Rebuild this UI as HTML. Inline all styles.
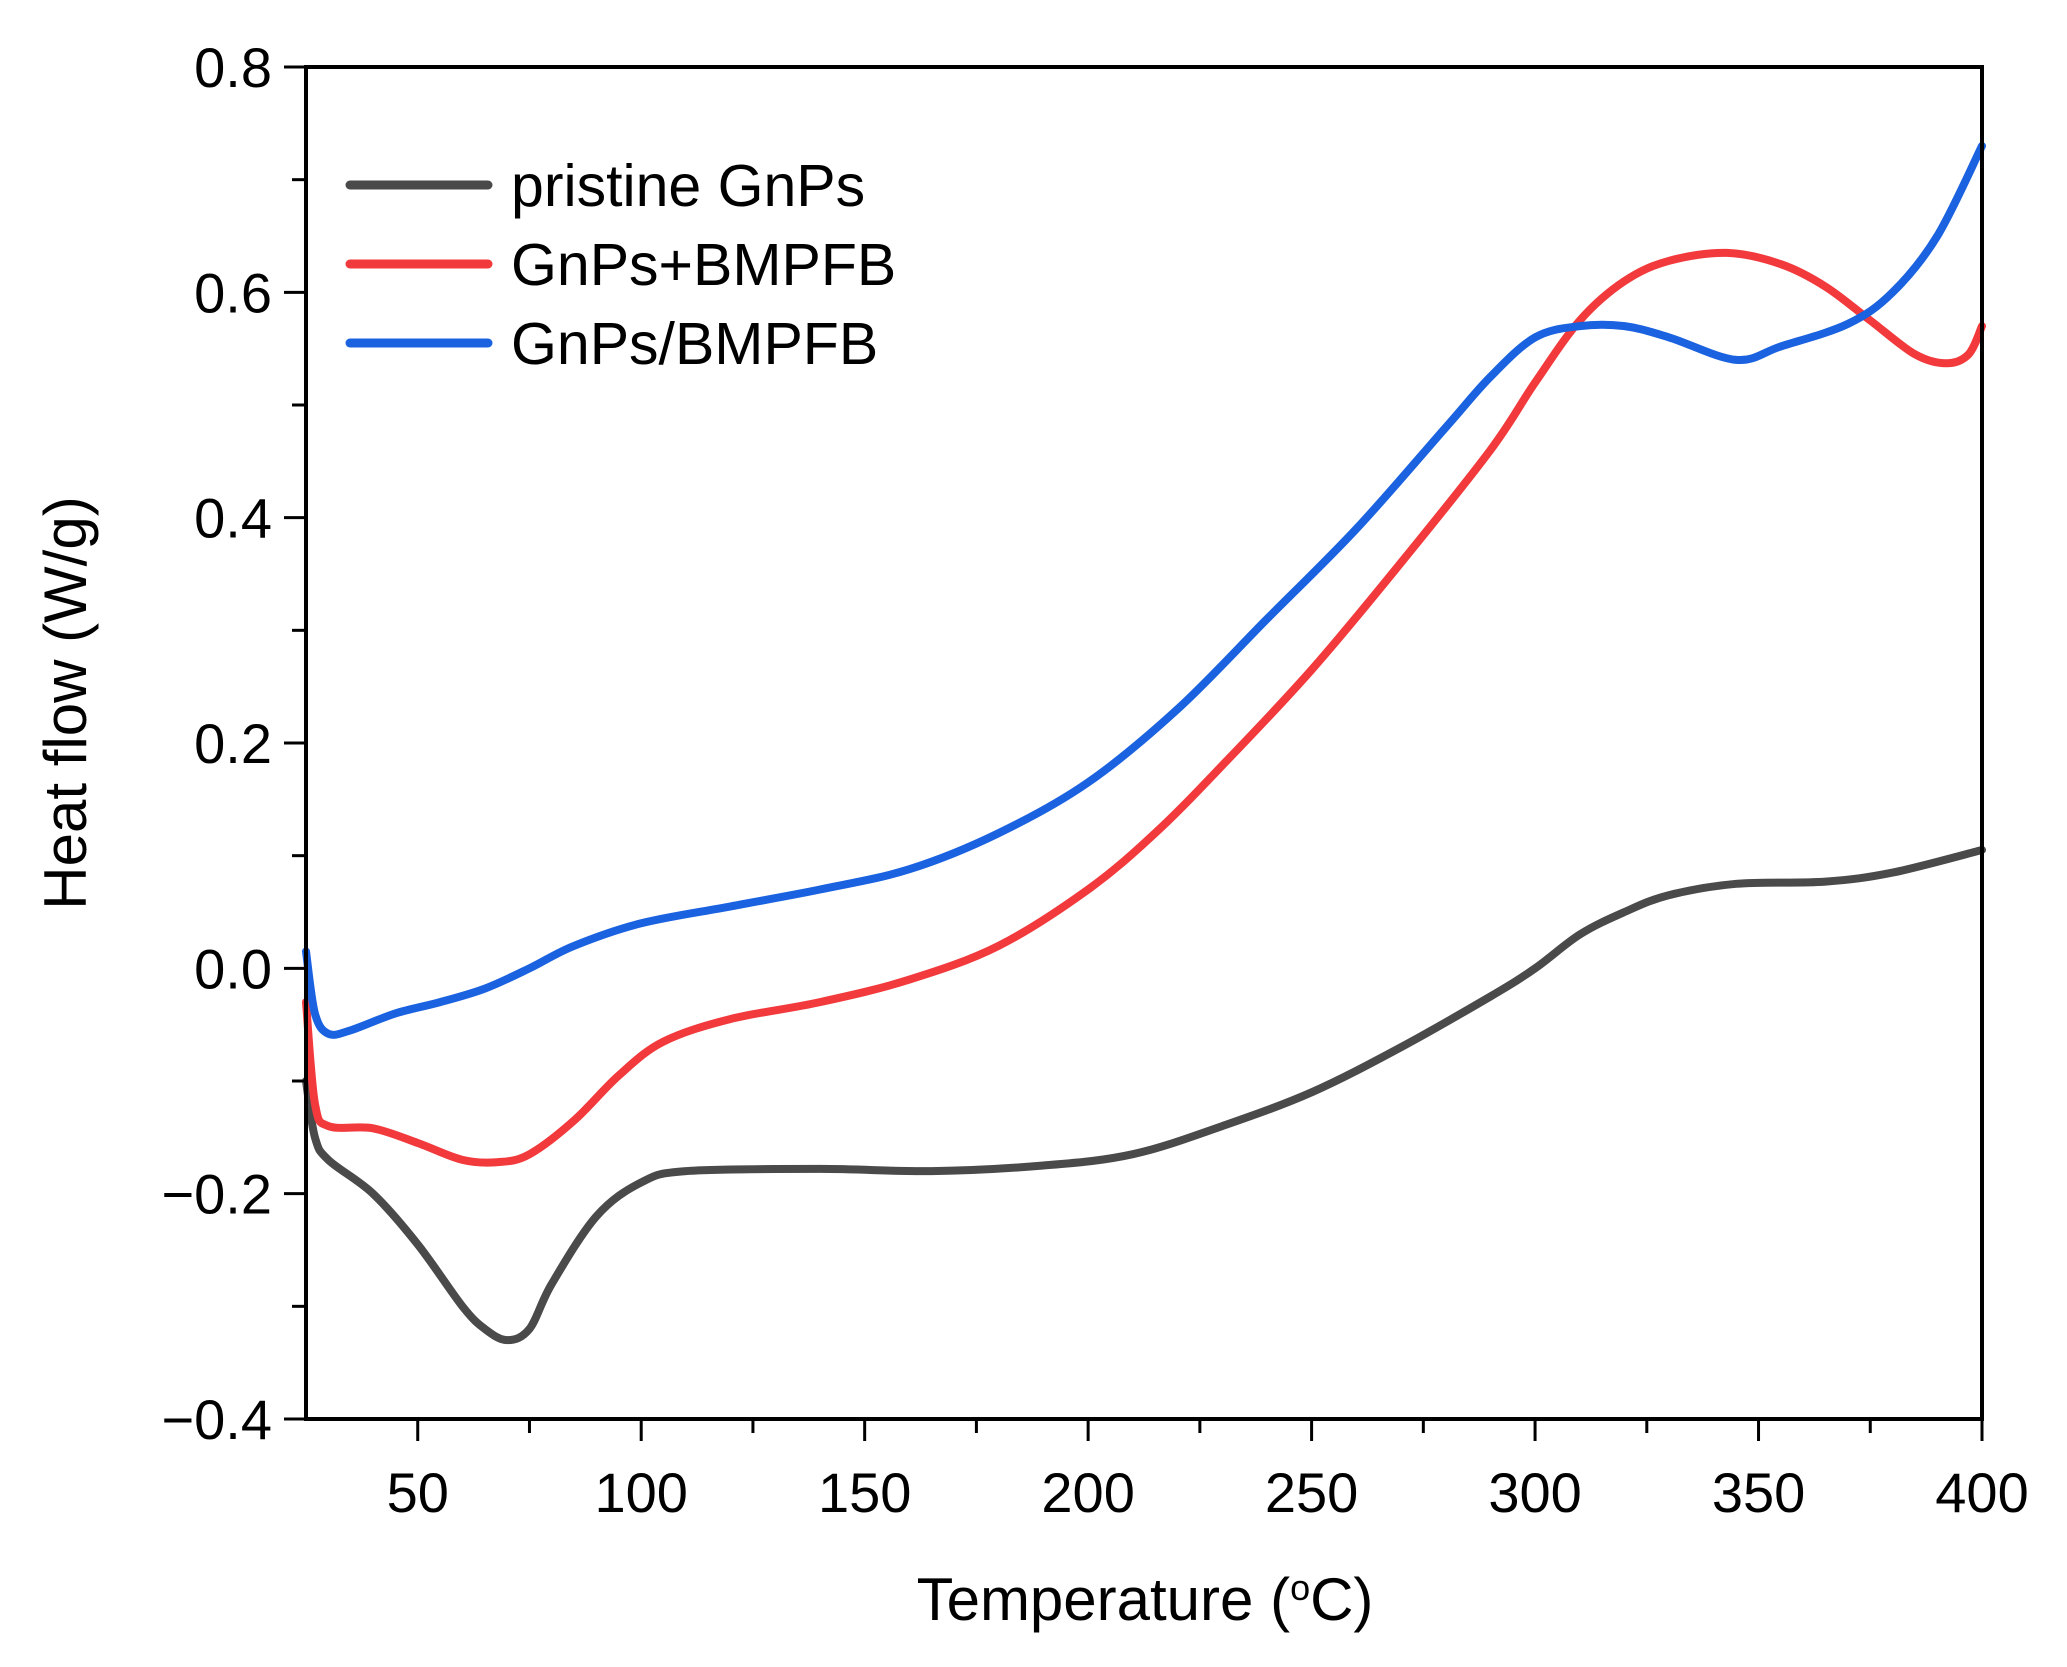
<!DOCTYPE html>
<html><head><meta charset="utf-8"><style>
body{margin:0;background:#fff}
svg{display:block;font-family:"Liberation Sans",Arial,sans-serif}
</style></head><body>
<svg id="chart" width="2067" height="1667" viewBox="0 0 2067 1667">
<g id="plot"></g>
</svg>
<script>
const blackT=[25,27,30,40,50,60,65,70,75,80,90,100,110,140,165,190,210,230,250,270,290,300,310,320,330,345,365,380,400];
const blackV=[-0.10,-0.15,-0.17,-0.20,-0.245,-0.30,-0.32,-0.33,-0.32,-0.28,-0.22,-0.19,-0.18,-0.178,-0.18,-0.175,-0.165,-0.14,-0.11,-0.07,-0.025,0.0,0.03,0.05,0.065,0.075,0.077,0.085,0.105];
const redT=[25,27,30,40,50,60,68,75,85,95,105,120,140,160,180,200,215,230,250,270,290,300,310,320,330,343,355,365,375,385,392,397,400];
const redV=[-0.03,-0.12,-0.14,-0.142,-0.155,-0.17,-0.172,-0.165,-0.135,-0.095,-0.065,-0.045,-0.03,-0.01,0.02,0.07,0.12,0.18,0.265,0.36,0.46,0.52,0.575,0.61,0.628,0.635,0.625,0.605,0.575,0.545,0.537,0.545,0.57];
const blueT=[25,27,30,35,45,55,65,75,85,100,120,140,160,180,200,220,240,260,280,290,300,310,320,330,345,355,370,380,390,400];
const blueV=[0.015,-0.04,-0.058,-0.055,-0.04,-0.03,-0.018,0.0,0.02,0.04,0.055,0.07,0.088,0.12,0.165,0.23,0.31,0.39,0.48,0.525,0.56,0.57,0.57,0.56,0.54,0.552,0.572,0.6,0.65,0.73];
const xTicks=[50,100,150,200,250,300,350,400];
const yTicks=[-0.4,-0.2,0.0,0.2,0.4,0.6,0.8];
const yTickLabels=["\u22120.4","\u22120.2","0.0","0.2","0.4","0.6","0.8"];
const legendLabels=["pristine GnPs","GnPs+BMPFB","GnPs/BMPFB"];

const L=306,R=1982,T=67,B=1419,X0=25,X1=400,Y0=-0.4,Y1=0.8;
const sx=v=>L+(v-X0)/(X1-X0)*(R-L);
const sy=v=>B-(v-Y0)/(Y1-Y0)*(B-T);
const NS="http://www.w3.org/2000/svg";
const g=document.getElementById('plot');
function mk(tag,attrs,parent){const e=document.createElementNS(NS,tag);for(const k in attrs)e.setAttribute(k,attrs[k]);(parent||g).appendChild(e);return e;}

function series(ts,vs,color,name){
  const P=ts.map((t,i)=>[sx(t),sy(vs[i])]);
  let d='M'+P[0][0].toFixed(1)+' '+P[0][1].toFixed(1);
  for(let i=0;i<P.length-1;i++){
    const p0=P[Math.max(0,i-1)],p1=P[i],p2=P[i+1],p3=P[Math.min(P.length-1,i+2)];
    const c1=[p1[0]+(p2[0]-p0[0])/6,p1[1]+(p2[1]-p0[1])/6];
    const c2=[p2[0]-(p3[0]-p1[0])/6,p2[1]-(p3[1]-p1[1])/6];
    d+=' C'+c1.map(v=>v.toFixed(1)).join(' ')+' '+c2.map(v=>v.toFixed(1)).join(' ')+' '+p2[0].toFixed(1)+' '+p2[1].toFixed(1);
  }
  const p=mk('path',{d:d,fill:'none',stroke:color,'stroke-width':8,'stroke-linejoin':'round','stroke-linecap':'round'});
  
  
}
series(blackT,blackV,'#4a4a4a','series-pristine-gnps');
series(redT,redV,'#f2393c','series-gnps-plus-bmpfb');
series(blueT,blueV,'#1a62e0','series-gnps-slash-bmpfb');

const frame=mk('rect',{x:L,y:T,width:R-L,height:B-T,fill:'none',stroke:'#000','stroke-width':4});



for(let v=50;v<=400;v+=25){
  const major=v%50===0;
  const t=mk('line',{x1:sx(v),x2:sx(v),y1:B,y2:B+(major?22:14),stroke:'#000','stroke-width':3});
  
  
}
xTicks.forEach(v=>{
  const t=mk('text',{x:sx(v),y:1512,'font-size':56,'text-anchor':'middle',fill:'#000'});
  t.textContent=v;
  
  
});
for(let i=0;i<=12;i++){
  const v=-0.4+i*0.1;const major=i%2===0;
  const t=mk('line',{x1:L-(major?22:14),x2:L,y1:sy(v),y2:sy(v),stroke:'#000','stroke-width':3});
  
  
}
yTicks.forEach((v,i)=>{
  const t=mk('text',{x:272,y:sy(v)+20,'font-size':56,'text-anchor':'end',fill:'#000'});
  t.textContent=yTickLabels[i];
  
  
});
const xt=mk('text',{x:1145,y:1620,'font-size':60,'text-anchor':'middle',fill:'#000'});
xt.innerHTML='Temperature (<tspan baseline-shift="super" font-size="36">o</tspan>C)';


const yt=mk('text',{x:0,y:0,'font-size':60,'text-anchor':'middle',fill:'#000',transform:'translate(86,703) rotate(-90)'});
yt.textContent='Heat flow (W/g)';



const colors=['#4a4a4a','#f2393c','#1a62e0'];
const lg=mk('g',{});


legendLabels.forEach((s,i)=>{
  const y=185+i*79;
  const l=mk('line',{x1:350,x2:488,y1:y,y2:y,stroke:colors[i],'stroke-width':9,'stroke-linecap':'round'},lg);
  
  
  const t=mk('text',{x:511,y:y+21,'font-size':59,fill:'#000'},lg);
  t.textContent=s;
  
  
});
</script>
</body></html>
